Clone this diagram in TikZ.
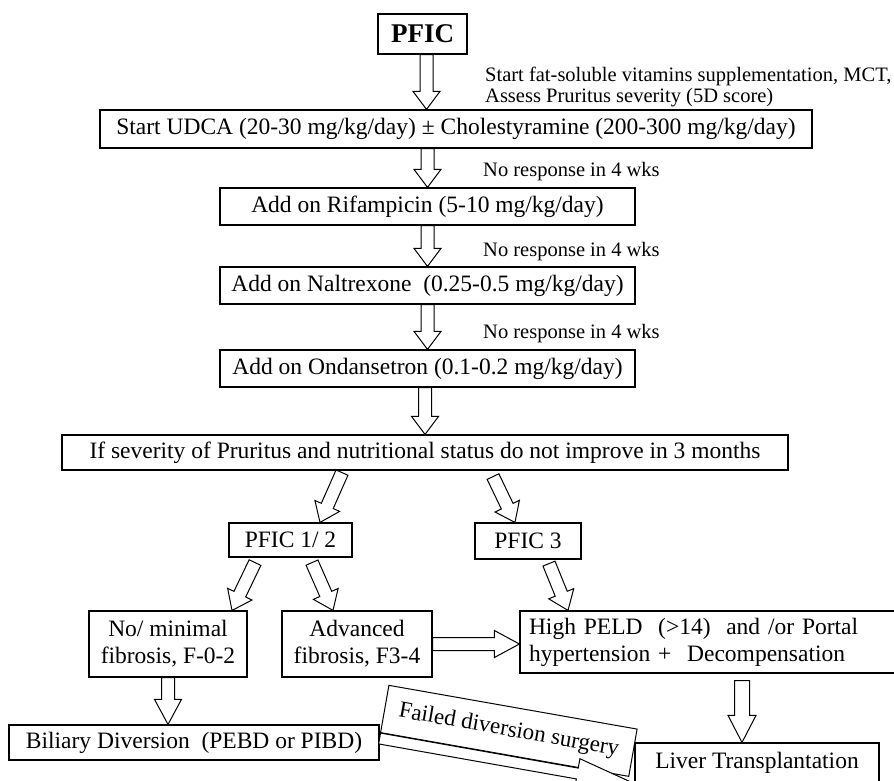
\documentclass[tikz,border=0pt]{standalone}
\usepackage{fontspec}
\setmainfont{Liberation Serif}
\usetikzlibrary{calc}

\tikzset{
	box/.style={draw, line width=1.2pt, fill=white, inner sep=0pt, align=center,
		font=\fontsize{23.5}{27}\selectfont},
	note/.style={anchor=west, inner sep=0pt, font=\fontsize{20.5}{24}\selectfont},
	fat/.style={draw, line width=1pt, fill=white, line join=miter},
}

\def\shw{6.5pt}
\def\hhw{13.5pt}
\def\hlen{18pt}
\newcommand{\fatarrow}[2]{%
	\coordinate (hb) at ($(#2)!\hlen!(#1)$);
	\draw[fat] ($(#1)!\shw!90:(#2)$) -- ($(hb)!\shw!-90:(#1)$)
		-- ($(hb)!\hhw!-90:(#1)$) -- (#2) -- ($(hb)!\hhw!90:(#1)$)
		-- ($(hb)!\shw!90:(#1)$) -- ($(#1)!\shw!-90:(#2)$) -- cycle;
}

\begin{document}
\begin{tikzpicture}[x=1pt, y=-1pt]
	\useasboundingbox (0,0) rectangle (894,780);
	\fill[white] (0,0) rectangle (894,780);

	\node[box, font=\bfseries\fontsize{27}{30}\selectfont, minimum width=89pt, minimum height=40pt] (pfic) at (422.5,34) {PFIC};
	\node[box, minimum width=712pt, minimum height=38pt] (udca) at (456,129) {Start UDCA (20-30 mg/kg/day) ± Cholestyramine (200-300 mg/kg/day)};
	\node[box, minimum width=415pt, minimum height=37pt] (rif) at (427.5,206.5) {Add on Rifampicin (5-10 mg/kg/day)};
	\node[box, minimum width=415pt, minimum height=37pt] (nal) at (427.5,285.5) {Add on Naltrexone\ \ (0.25-0.5 mg/kg/day)};
	\node[box, minimum width=415pt, minimum height=37pt] (ond) at (427.5,368.5) {Add on Ondansetron (0.1-0.2 mg/kg/day)};
	\node[box, minimum width=726pt, minimum height=35pt] (sev) at (425,452.5) {If severity of Pruritus and nutritional status do not improve in 3 months};
	\node[box, minimum width=123pt, minimum height=34pt] (pfa) at (290.5,540) {PFIC 1/ 2};
	\node[box, minimum width=106pt, minimum height=36pt] (pfb) at (528,541) {PFIC 3};
	\node[box, minimum width=158pt, minimum height=66pt] (nomin) at (168,644) {No/ minimal\\fibrosis, F-0-2};
	\node[box, minimum width=150pt, minimum height=66pt] (adv) at (357,644) {Advanced\\fibrosis, F3-4};
	\node[box, minimum width=380pt, minimum height=62pt, text width=362pt, align=left] (high) at (710,642) {High PELD\ \ (>14)\ \ and /or Portal\\hypertension +\ \ Decompensation};
	\node[box, minimum width=370pt, minimum height=35pt] (bil) at (194,742.5) {Biliary Diversion\ \ (PEBD or PIBD)};
	\node[box, minimum width=244pt, minimum height=40pt] (liver) at (757,763) {Liver Transplantation};

	\node[note] (vit) at (485,76) {Start fat-soluble vitamins supplementation, MCT,};
	\node[note] (itch) at (485,98) {Assess Pruritus severity (5D score)};
	\foreach \y/\n in {172/1, 252/2, 334/3}
		\node[note] (wk\n) at (483,\y) {No response in 4 wks};

	\coordinate (e0) at ($(udca.north -| pfic.south)+(4,0)$);
	\fatarrow{e0 |- pfic.south}{e0}
	\foreach \a/\b in {udca/rif, rif/nal, nal/ond, ond/sev}
		{\fatarrow{\b.north |- \a.south}{\b.north}}

	\coordinate (s1) at ($(sev.south)+(-83,2)$);
	\coordinate (e1) at ($(pfa.north)+(29.5,0)$);
	\coordinate (s2) at ($(sev.south)+(68,6)$);
	\coordinate (e2) at ($(pfb.north)+(-13,0)$);
	\coordinate (s3) at ($(pfa.south)+(-35.5,5)$);
	\coordinate (e3) at ($(nomin.north)+(64,0)$);
	\coordinate (s4) at ($(pfa.south)+(21.5,5)$);
	\coordinate (e4) at ($(adv.north)+(-24,0)$);
	\coordinate (s5) at ($(pfb.south)+(21,4)$);
	\coordinate (e5) at ($(high.north)+(-142,0)$);
	\foreach \i in {1,...,5}
		{\fatarrow{s\i}{e\i}}

	\def\hlen{25pt}
	\fatarrow{adv.east}{adv.east -| high.west}
	\fatarrow{nomin.south}{nomin.south |- bil.north}
	\coordinate (e6) at ($(liver.north)+(-15,0)$);
	\coordinate (s6) at ($(e6 |- high.south)+(0,7)$);
	\def\shw{7.5pt}\def\hhw{14pt}\def\hlen{27pt}
	\fatarrow{s6}{e6}

	\node[box, rotate=-10, anchor=south west, line width=1pt, minimum width=252pt, minimum height=48pt, font=\fontsize{23}{26}\selectfont] (fail) at (380,733) {Failed diversion surgery};
	\coordinate (f1) at ($(bil.east)+(0,-4)$);
	\def\shw{5.5pt}\def\hhw{15pt}\def\hlen{58pt}
	\fatarrow{f1}{liver.south west}
\end{tikzpicture}
\end{document}
